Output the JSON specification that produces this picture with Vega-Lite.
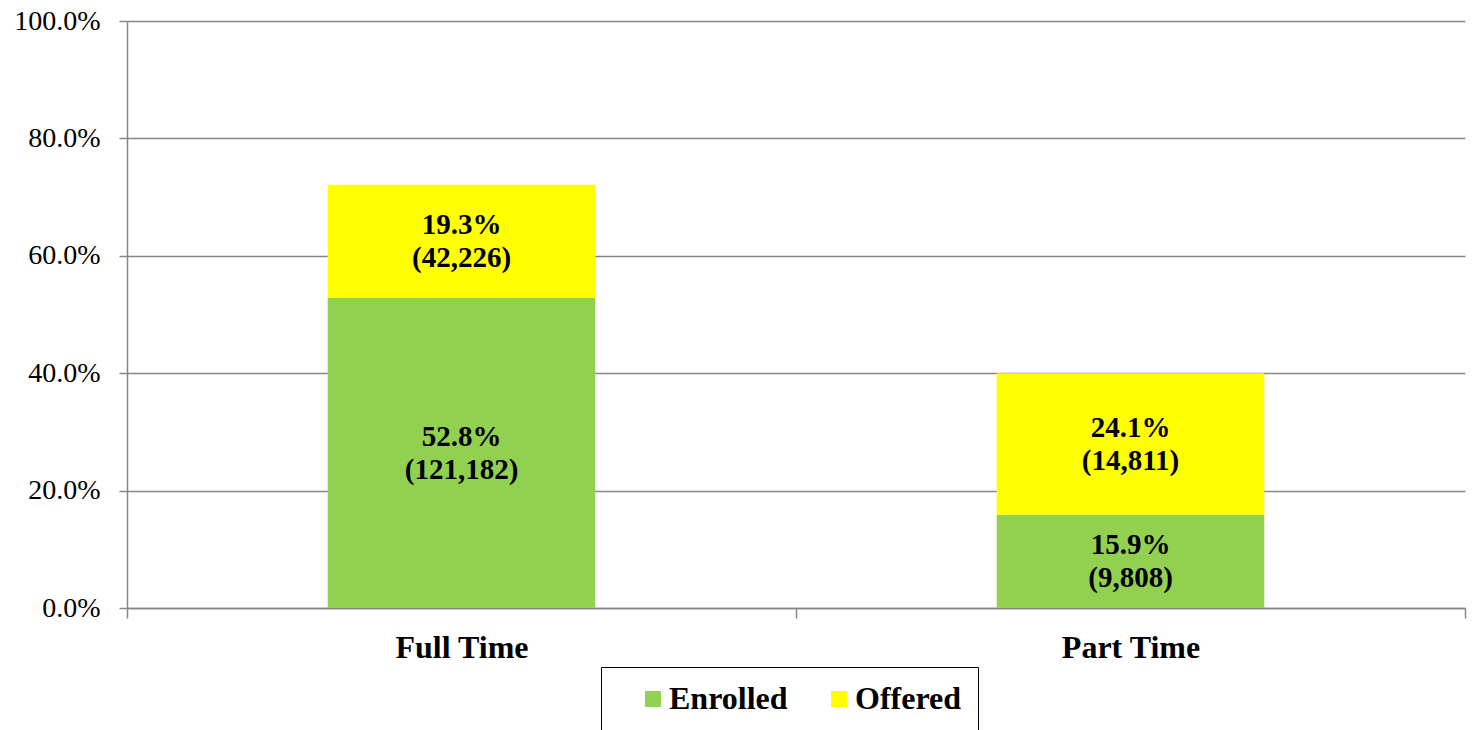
{
  "$schema": "https://vega.github.io/schema/vega-lite/v6.json",
  "autosize": {"type": "none"},
  "width": 1345,
  "height": 587,
  "padding": {"left": 127, "top": 21, "right": 0, "bottom": 122},
  "background": "white",
  "config": {
    "view": {"stroke": null},
    "font": "Liberation Serif"
  },
  "data": {
    "values": [
      {"type": "Full Time", "status": "Enrolled", "order": 1, "pct": 0.528, "count": 121182},
      {"type": "Full Time", "status": "Offered", "order": 2, "pct": 0.193, "count": 42226},
      {"type": "Part Time", "status": "Enrolled", "order": 1, "pct": 0.159, "count": 9808},
      {"type": "Part Time", "status": "Offered", "order": 2, "pct": 0.241, "count": 14811}
    ]
  },
  "transform": [
    {"stack": "pct", "groupby": ["type"], "sort": [{"field": "order", "order": "ascending"}], "as": ["y0", "y1"]},
    {"calculate": "(datum.y0 + datum.y1) / 2", "as": "ymid"},
    {"calculate": "[format(datum.pct, '.1%'), '(' + format(datum.count, ',') + ')']", "as": "label"}
  ],
  "encoding": {
    "x": {
      "field": "type",
      "type": "nominal",
      "sort": ["Full Time", "Part Time"],
      "scale": {"paddingInner": 0, "paddingOuter": 0, "range": [0, 1338]},
      "axis": {
        "title": null,
        "labelAngle": 0,
        "labelFont": "Liberation Serif",
        "labelFontSize": 32,
        "labelFontWeight": "bold",
        "labelColor": "#000000",
        "labelPadding": 14,
        "tickBand": "extent",
        "tickSize": 10,
        "tickColor": "#868686",
        "domainColor": "#868686",
        "tickWidth": 1.5,
        "domainWidth": 1.5,
        "grid": false
      }
    }
  },
  "layer": [
    {
      "mark": {"type": "bar", "width": {"band": 0.4}},
      "encoding": {
        "y": {
          "field": "y0",
          "type": "quantitative",
          "scale": {"domain": [0, 1], "nice": false},
          "axis": {
            "title": null,
            "values": [0, 0.2, 0.4, 0.6, 0.8, 1.0],
            "format": ".1%",
            "labelFont": "Liberation Serif",
            "labelFontSize": 28,
            "labelColor": "#000000",
            "labelPadding": 19,
            "tickSize": 8,
            "tickColor": "#868686",
            "tickWidth": 1.5,
            "domainColor": "#868686",
            "domainWidth": 1.5,
            "grid": true,
            "gridColor": "#868686",
            "gridWidth": 1.5
          }
        },
        "y2": {"field": "y1"},
        "color": {
          "field": "status",
          "type": "nominal",
          "scale": {"domain": ["Enrolled", "Offered"], "range": ["#92D050", "#FFFF00"]},
          "legend": {
            "title": " ",
            "titleOrient": "left",
            "titleFontSize": 1,
            "titlePadding": 20,
            "orient": "none",
            "direction": "horizontal",
            "legendX": 474,
            "legendY": 646,
            "padding": 16,
            "strokeColor": "#000000",
            "labelFont": "Liberation Serif",
            "labelFontSize": 32,
            "labelFontWeight": "bold",
            "labelColor": "#000000",
            "labelOffset": 0,
            "labelExpr": "datum.label == 'Offered' ? datum.label + '\u00a0\u00a0' : datum.label",
            "columnPadding": 35,
            "symbolType": "square",
            "symbolSize": 256,
            "symbolStrokeWidth": 0
          }
        }
      }
    },
    {
      "mark": {
        "type": "text",
        "font": "Liberation Serif",
        "fontSize": 29,
        "fontWeight": "bold",
        "lineHeight": 33,
        "baseline": "middle",
        "align": "center",
        "dy": -16,
        "color": "#000000"
      },
      "encoding": {
        "y": {"field": "ymid", "type": "quantitative"},
        "text": {"field": "label"}
      }
    }
  ]
}
